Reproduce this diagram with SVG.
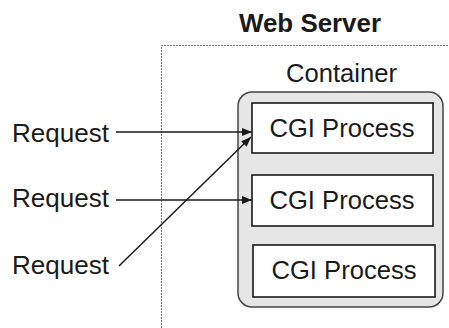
<svg xmlns="http://www.w3.org/2000/svg" width="449" height="328" viewBox="0 0 449 328">
<style>
.t{font-family:"Liberation Sans",Arial,sans-serif;font-size:25px;fill:#1a1a1a}
.b{font-weight:bold}
.box{fill:#fff;stroke:#1a1a1a;stroke-width:1.6}
.ln{stroke:#1a1a1a;stroke-width:1.5;fill:none}
</style>
<defs>
<marker id="ah" viewBox="0 0 10 8" refX="10" refY="4" markerWidth="10" markerHeight="8" markerUnits="userSpaceOnUse" orient="auto">
<path d="M0,0 L10,4 L0,8 Z" fill="#1a1a1a"/>
</marker>
</defs>
<g id="webserver">
<path d="M161.5,328 V45.5 H449" fill="none" stroke="#777" stroke-width="1" stroke-dasharray="2,1"/>
<text class="t b" x="310" y="32" text-anchor="middle" textLength="142" lengthAdjust="spacingAndGlyphs">Web Server</text>
</g>
<g id="container">
<rect x="238" y="92" width="205" height="215" rx="14" fill="#e6e6e6" stroke="#444" stroke-width="1.5"/>
<text class="t" x="341.5" y="82" text-anchor="middle" textLength="111" lengthAdjust="spacingAndGlyphs">Container</text>
</g>
<g id="cgi1">
<rect class="box" x="252" y="103" width="181" height="50"/>
<text class="t" x="342" y="136.5" text-anchor="middle" textLength="145" lengthAdjust="spacingAndGlyphs">CGI Process</text>
</g>
<g id="cgi2">
<rect class="box" x="252" y="175" width="181" height="51"/>
<text class="t" x="342" y="208.5" text-anchor="middle" textLength="145" lengthAdjust="spacingAndGlyphs">CGI Process</text>
</g>
<g id="cgi3">
<rect class="box" x="253" y="245" width="182" height="52"/>
<text class="t" x="344" y="278.5" text-anchor="middle" textLength="145" lengthAdjust="spacingAndGlyphs">CGI Process</text>
</g>
<g id="req1"><text class="t" x="12" y="142" textLength="97" lengthAdjust="spacingAndGlyphs">Request</text></g>
<g id="req2"><text class="t" x="12" y="207" textLength="97" lengthAdjust="spacingAndGlyphs">Request</text></g>
<g id="req3"><text class="t" x="12" y="274" textLength="97" lengthAdjust="spacingAndGlyphs">Request</text></g>
<g id="connectors">
<line class="ln" x1="116" y1="132" x2="252" y2="132" marker-end="url(#ah)"/>
<line class="ln" x1="116" y1="200" x2="252" y2="200" marker-end="url(#ah)"/>
<line class="ln" x1="119" y1="266" x2="251" y2="137" marker-end="url(#ah)"/>
</g>
</svg>
